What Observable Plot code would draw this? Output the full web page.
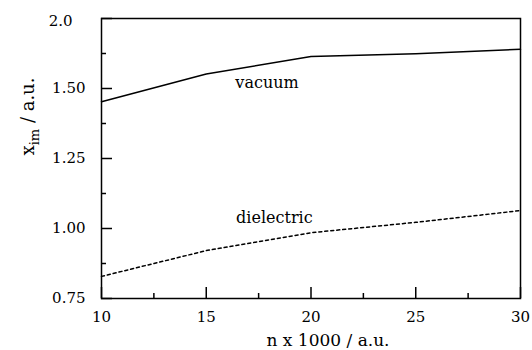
<!DOCTYPE html>
<html>
<head>
<meta charset="utf-8">
<script src="https://cdn.jsdelivr.net/npm/d3@7"></script>
<script src="https://cdn.jsdelivr.net/npm/@observablehq/plot@0.6"></script>
<style>
  html, body { margin: 0; padding: 0; background: #fff; }
  #chart svg { display: block; }
</style>
</head>
<body>
<div id="chart"></div>
<script>
// Image position x_im versus n, for vacuum and for a dielectric
const nValues = [10, 15, 20, 25, 30];
const vacuum = [1.453, 1.552, 1.614, 1.624, 1.640];
const dielectric = [0.829, 0.921, 0.985, 1.022, 1.064];

const seriesNames = ["vacuum", "dielectric"];
const labelX = [17.9, 18.25];
const labelY = [1.521, 1.039];

const xMajor = [10, 15, 20, 25, 30];
const xMinor = [12.5, 17.5, 22.5, 27.5];
const yMajor = [0.75, 1.00, 1.25, 1.50, 1.75];
const yMajorLabels = ["0.75", "1.00", "1.25", "1.50", "2.0"];
const yMinor = [0.875, 1.125, 1.375, 1.625];

const xTitle = "n x 1000 / a.u.";
const yTitle = "xim / a.u.";

const W = 532, H = 350;
const mL = 101, mR = 12, mT = 18, mB = 52;
const innerW = W - mL - mR, innerH = H - mT - mB;
const font = "DejaVu Serif";

const vacRows = nValues.map((n, i) => ({n, v: vacuum[i]}));
const dieRows = nValues.map((n, i) => ({n, v: dielectric[i]}));
const labelRows = seriesNames.map((s, i) => ({s, x: labelX[i], y: labelY[i]}));
const yLabelOf = v => yMajorLabels[yMajor.indexOf(v)];

const chart = Plot.plot({
  width: W,
  height: H,
  marginLeft: mL,
  marginRight: mR,
  marginTop: mT,
  marginBottom: mB,
  style: {fontFamily: font, fontSize: "15px", color: "#000", background: "#fff"},
  x: {domain: [10, 30]},
  y: {domain: [0.75, 1.75]},
  marks: [
    // tick labels
    Plot.axisX(xMajor, {tickSize: 0, tickPadding: 13, fontSize: 15, label: null}),
    Plot.axisY(yMajor.slice(0, 4), {tickSize: 0, tickPadding: 16, fontSize: 15, label: null, tickFormat: yLabelOf}),
    Plot.axisY(yMajor.slice(4), {tickSize: 0, tickPadding: 29, dy: 3, fontSize: 15, label: null, tickFormat: yLabelOf}),
    // inward ticks
    Plot.ruleX(xMajor, {insetTop: innerH - 11, stroke: "#000", strokeWidth: 1.5}),
    Plot.ruleX(xMinor, {insetTop: innerH - 5, stroke: "#000", strokeWidth: 1.5}),
    Plot.ruleY(yMajor, {insetRight: innerW - 11, stroke: "#000", strokeWidth: 1.5}),
    Plot.ruleY(yMinor, {insetRight: innerW - 5, stroke: "#000", strokeWidth: 1.5}),
    Plot.frame({stroke: "#000", strokeWidth: 1.5}),
    // series
    Plot.line(vacRows, {x: "n", y: "v", stroke: "#000", strokeWidth: 1.5}),
    Plot.line(dieRows, {x: "n", y: "v", stroke: "#000", strokeWidth: 1.5, strokeDasharray: "3,3"}),
    Plot.text(labelRows, {x: "x", y: "y", text: "s", fontSize: 16, fill: "#000"}),
    // axis titles
    Plot.text([xTitle], {frameAnchor: "bottom", text: d => d, dx: 17, dy: 35, lineAnchor: "top", fontSize: 17, fill: "#000"}),
    Plot.text([yTitle], {frameAnchor: "left", text: d => d, dx: -73, dy: -3, rotate: -90, lineAnchor: "middle", fontSize: 18, fill: "#000"})
  ]
});

// subscript for the y title
d3.select(chart).selectAll("text")
  .filter(function () { return this.textContent === yTitle; })
  .each(function () {
    const t = d3.select(this);
    t.text(null);
    t.append("tspan").text("x");
    t.append("tspan").attr("dy", 5).attr("font-size", 13).text("im");
    t.append("tspan").attr("dy", -5).text(" / a.u.");
  });

document.getElementById("chart").appendChild(chart);
</script>
</body>
</html>
